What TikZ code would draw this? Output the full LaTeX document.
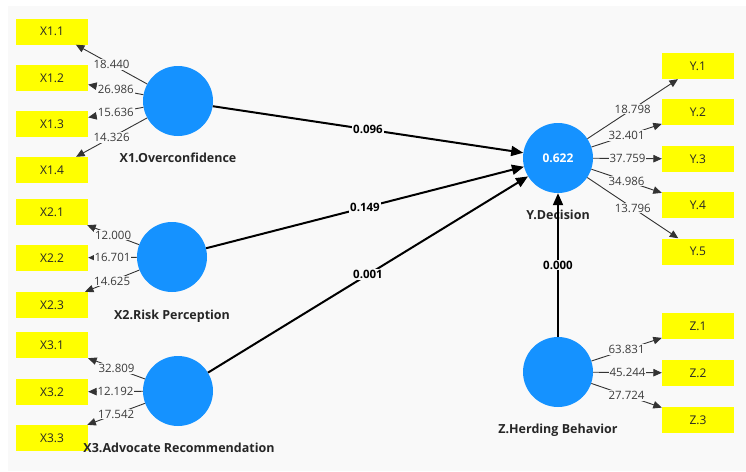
\documentclass[tikz,border=0pt]{standalone}
\usepackage{fontspec}
\setmainfont{Open Sans}
\usetikzlibrary{arrows.meta}
\definecolor{bggray}{RGB}{249,249,249}
\definecolor{lvblue}{RGB}{21,146,255}
\definecolor{mvyellow}{RGB}{255,255,0}
\definecolor{lblgray}{RGB}{60,60,60}
\tikzset{
  mv/.style={rectangle, fill=mvyellow, minimum width=72pt, minimum height=26pt, inner sep=0pt, text=black!85, font=\fontsize{12}{14}\selectfont},
  lv/.style={circle, fill=lvblue, minimum size=70pt, inner sep=0pt, text=white, font=\bfseries\fontsize{12}{14}\selectfont},
  lvname/.style={font=\bfseries\fontsize{12.5}{15}\selectfont, text=black!85},
  load/.style={-{Triangle[length=8.5pt,width=7.5pt]}, line width=0.9pt, draw=black!80},
  path/.style={-{Triangle[length=12pt,width=10pt]}, line width=2pt, draw=black},
  ll/.style={midway, fill=bggray, inner sep=1pt, text=lblgray, font=\fontsize{11.5}{13}\selectfont},
  pl/.style={midway, fill=bggray, inner sep=1pt, text=black, font=\bfseries\fontsize{11.5}{13}\selectfont}
}
\begin{document}
\begin{tikzpicture}[x=1pt,y=-1pt]
\useasboundingbox (0,0) rectangle (746,471);
\fill[white] (0,0) rectangle (746,471);
\fill[bggray] (8,6) rectangle (746,471);
% latent variables
\node[lv] (X1) at (178,101) {};
\node[lv] (X2) at (172,257) {};
\node[lv] (X3) at (178,391) {};
\node[lv] (Y) at (558,158) {0.622};
\node[lv] (Z) at (558,372) {};
% indicators
\node[mv] (X11) at (52,31.5) {X1.1};
\node[mv] (X12) at (52,78) {X1.2};
\node[mv] (X13) at (52,124) {X1.3};
\node[mv] (X14) at (52,170) {X1.4};
\node[mv] (X21) at (52,212) {X2.1};
\node[mv] (X22) at (52,258) {X2.2};
\node[mv] (X23) at (52,305) {X2.3};
\node[mv] (X31) at (52,345) {X3.1};
\node[mv] (X32) at (52,392) {X3.2};
\node[mv] (X33) at (52,438) {X3.3};
\node[mv] (Y1) at (698,66) {Y.1};
\node[mv] (Y2) at (698,112) {Y.2};
\node[mv] (Y3) at (698,159) {Y.3};
\node[mv] (Y4) at (698,205) {Y.4};
\node[mv] (Y5) at (698,251.5) {Y.5};
\node[mv] (Z1) at (698,326) {Z.1};
\node[mv] (Z2) at (698,373) {Z.2};
\node[mv] (Z3) at (698,420) {Z.3};
% latent variable names
\node[lvname] (X1n) at (178,158) {X1.Overconfidence};
\node[lvname] (X2n) at (172,316) {X2.Risk Perception};
\node[lvname] (X3n) at (179,448) {X3.Advocate Recommendation};
\node[lvname] (Yn) at (558,215) {Y.Decision};
\node[lvname] (Zn) at (558,430) {Z.Herding Behavior};
% loadings
\draw[load] (X1) -- node[ll] {18.440} (X11);
\draw[load] (X1) -- node[ll] {26.986} (X12);
\draw[load] (X1) -- node[ll] {15.636} (X13);
\draw[load] (X1) -- node[ll] {14.326} (X14);
\draw[load] (X2) -- node[ll] {12.000} (X21);
\draw[load] (X2) -- node[ll] {16.701} (X22);
\draw[load] (X2) -- node[ll] {14.625} (X23);
\draw[load] (X3) -- node[ll] {32.809} (X31);
\draw[load] (X3) -- node[ll] {12.192} (X32);
\draw[load] (X3) -- node[ll] {17.542} (X33);
\draw[load] (Y) -- node[ll] {18.798} (Y1);
\draw[load] (Y) -- node[ll] {32.401} (Y2);
\draw[load] (Y) -- node[ll] {37.759} (Y3);
\draw[load] (Y) -- node[ll] {34.986} (Y4);
\draw[load] (Y) -- node[ll] {13.796} (Y5);
\draw[load] (Z) -- node[ll] {63.831} (Z1);
\draw[load] (Z) -- node[ll] {45.244} (Z2);
\draw[load] (Z) -- node[ll] {27.724} (Z3);
% structural paths
\draw[path] (X1) -- node[pl] {0.096} (Y);
\draw[path] (X2) -- node[pl] {0.149} (Y);
\draw[path] (X3) -- node[pl] {0.001} (Y);
\draw[path] (Z) -- node[pl] {0.000} (Y);
\end{tikzpicture}
\end{document}
